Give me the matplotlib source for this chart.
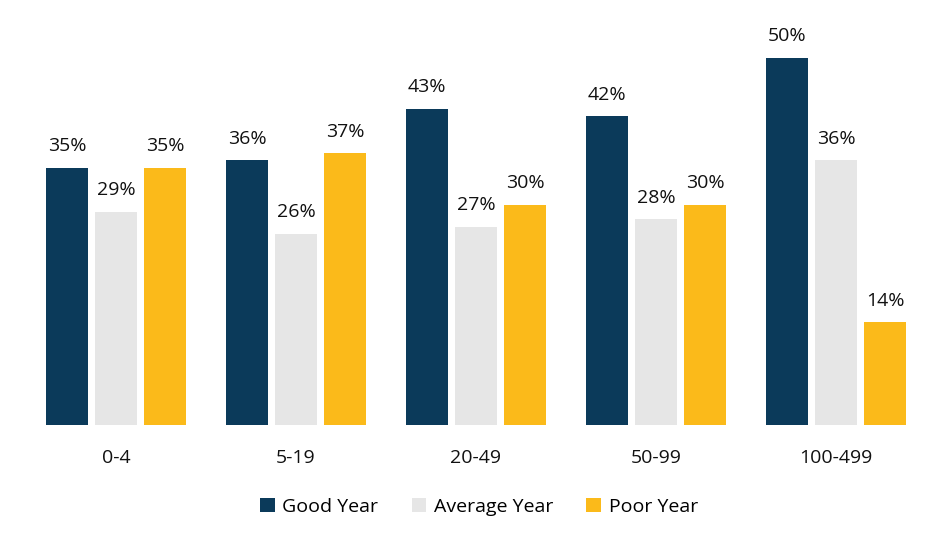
import matplotlib.pyplot as plt
import numpy as np

plt.rcParams['font.family'] = ['Open Sans', 'DejaVu Sans']

categories = ['0-4', '5-19', '20-49', '50-99', '100-499']
good_year = [35, 36, 43, 42, 50]
average_year = [29, 26, 27, 28, 36]
poor_year = [35, 37, 30, 30, 14]

series = [
    ('Good Year', good_year, '#0B3A5A'),
    ('Average Year', average_year, '#E6E6E6'),
    ('Poor Year', poor_year, '#FBBA1A'),
]

fig = plt.figure(figsize=(9.5, 5.43), dpi=100)
ax = fig.add_axes([0, 118 / 543, 1, 55 * 7.35 / 543])

x = np.arange(len(categories))
bar_width = 0.233
offset = 0.272

for i, (name, values, color) in enumerate(series):
    pos = x + (i - 1) * offset
    bars = ax.bar(pos, values, width=bar_width, color=color, label=name)
    for bar in bars:
        height = bar.get_height()
        ax.annotate(f'{height:.0f}%', (bar.get_x() + bar.get_width() / 2, height),
                    xytext=(0, 9), textcoords='offset points',
                    ha='center', va='bottom', fontsize=14, color='#111111')

ax.set_xlim(-116 / 180, (950 - 116) / 180)
ax.set_ylim(0, 55)
ax.set_xticks(x)
ax.set_xticklabels(categories, fontsize=14, color='#111111')
ax.tick_params(axis='x', length=0, pad=17)
ax.set_yticks([])
for side in ['top', 'right', 'left', 'bottom']:
    ax.spines[side].set_visible(False)

fig.legend(loc='center', bbox_to_anchor=(479 / 950, 1 - 507 / 543), ncol=3,
           frameon=False, fontsize=14, handlelength=0.75, handleheight=0.75,
           handletextpad=0.4, columnspacing=1.7)

plt.savefig('out.png', dpi=100)
